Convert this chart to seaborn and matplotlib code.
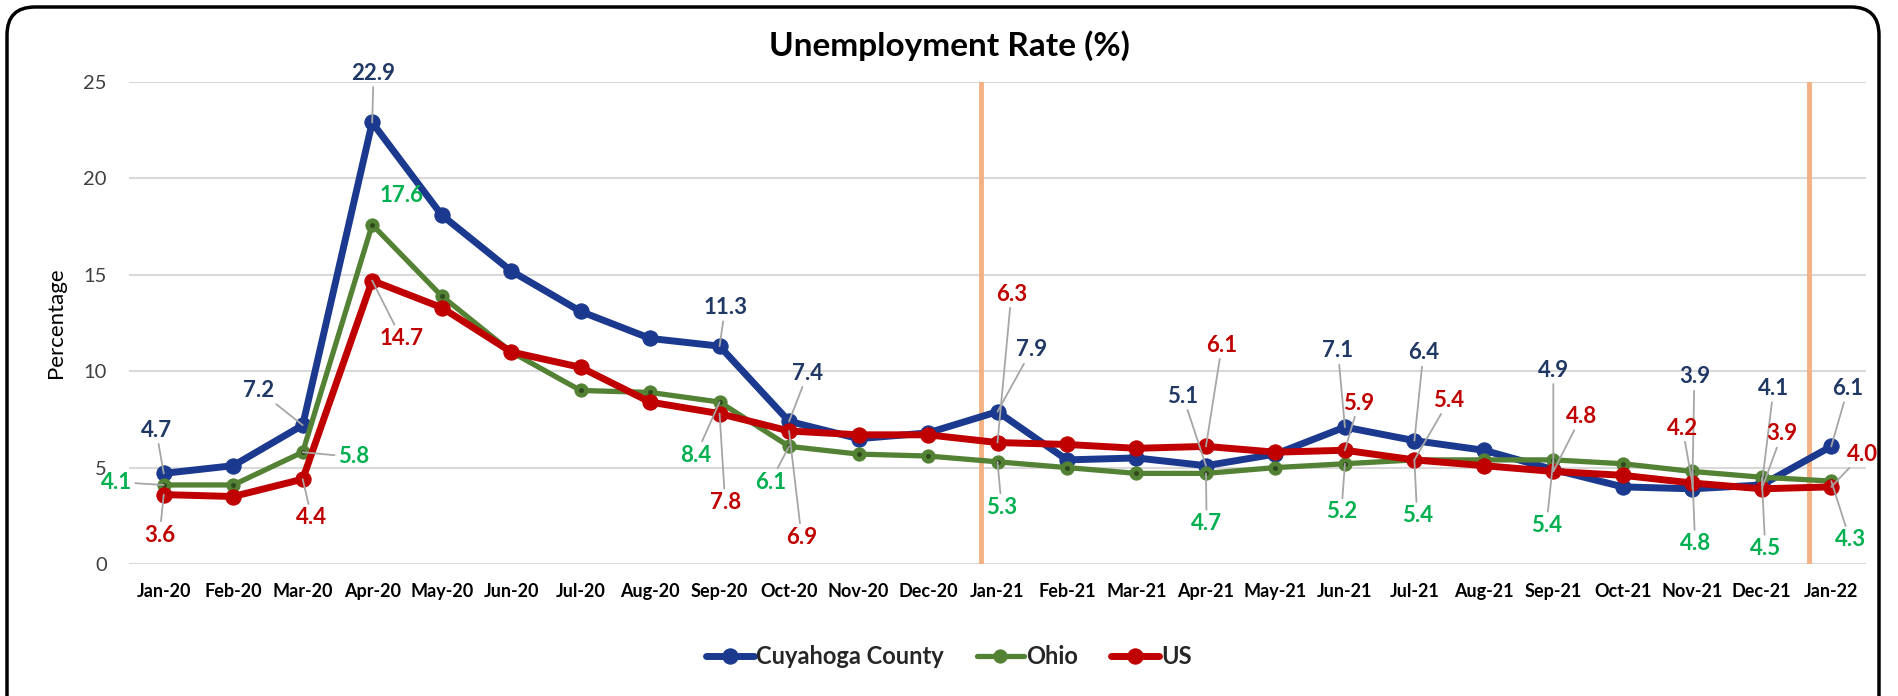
import matplotlib
matplotlib.use("Agg")
import matplotlib.pyplot as plt
from matplotlib.patches import FancyBboxPatch
from matplotlib.transforms import IdentityTransform
import numpy as np
import seaborn as sns

# data
months = ["Jan-20", "Feb-20", "Mar-20", "Apr-20", "May-20", "Jun-20", "Jul-20",
          "Aug-20", "Sep-20", "Oct-20", "Nov-20", "Dec-20", "Jan-21", "Feb-21",
          "Mar-21", "Apr-21", "May-21", "Jun-21", "Jul-21", "Aug-21", "Sep-21",
          "Oct-21", "Nov-21", "Dec-21", "Jan-22"]
cuyahoga = [4.7, 5.1, 7.2, 22.9, 18.1, 15.2, 13.1, 11.7, 11.3, 7.4, 6.5, 6.8, 7.9,
            5.4, 5.5, 5.1, 5.7, 7.1, 6.4, 5.9, 4.9, 4.0, 3.9, 4.1, 6.1]
ohio = [4.1, 4.1, 5.8, 17.6, 13.9, 11.0, 9.0, 8.9, 8.4, 6.1, 5.7, 5.6, 5.3,
        5.0, 4.7, 4.7, 5.0, 5.2, 5.4, 5.4, 5.4, 5.2, 4.8, 4.5, 4.3]
us = [3.6, 3.5, 4.4, 14.7, 13.3, 11.0, 10.2, 8.4, 7.8, 6.9, 6.7, 6.7, 6.3,
      6.2, 6.0, 6.1, 5.8, 5.9, 5.4, 5.1, 4.8, 4.6, 4.2, 3.9, 4.0]
# months that carry a value label
labelled = [0, 2, 3, 8, 9, 12, 15, 17, 18, 20, 22, 23, 24]

# label placement (x in month positions, y in data units), layout only
blue_pos = [(-0.11, 6.95), (1.37, 9.0), (3.02, 25.45), (8.08, 13.3), (9.27, 9.9),
            (12.49, 11.1), (14.67, 8.7), (16.9, 11.05), (18.13, 10.95),
            (20.0, 10.05), (22.03, 9.7), (23.17, 9.1), (24.24, 9.1)]
green_pos = [(-0.68, 4.25), (2.73, 5.55), (3.42, 19.1), (7.66, 5.65), (8.73, 4.25),
             (12.06, 2.95), (15.01, 2.1), (16.95, 2.7), (18.04, 2.5),
             (19.9, 2.0), (22.04, 1.05), (23.05, 0.8), (24.27, 1.25)]
red_pos = [(-0.06, 1.5), (2.13, 2.4), (3.42, 11.7), (8.08, 3.2), (9.18, 1.4),
           (12.2, 14.0), (15.23, 11.35), (17.2, 8.35), (18.5, 8.5),
           (20.4, 7.65), (21.86, 7.05), (23.29, 6.75), (24.45, 5.7)]

BLUE, GREEN, RED = "#1B3A8F", "#548235", "#C00000"
BLUE_TXT, GREEN_TXT, RED_TXT = "#203864", "#00B050", "#C00000"

sns.set_style("white")
plt.rcParams["font.family"] = ["Lato", "DejaVu Sans"]

fig = plt.figure(figsize=(18.98, 6.96), dpi=100)
ax = fig.add_axes([129 / 1898, 132 / 696, 1737 / 1898, 482 / 696])
x = np.arange(len(months))

# period separators
for xv in (11.76, 23.68):
    ax.axvline(xv, color="#F4B183", lw=3.5, zorder=1)

sns.lineplot(x=x, y=cuyahoga, color=BLUE, lw=5, marker="o", markersize=11,
             markeredgecolor=BLUE, label="Cuyahoga County", ax=ax, zorder=3)
sns.lineplot(x=x, y=ohio, color=GREEN, lw=3.8, marker="o", markersize=9.5,
             markeredgecolor=GREEN, label="Ohio", ax=ax, zorder=4)
ax.plot(x, ohio, ls="none", marker="o", markersize=2.5, color="#2E4A1C", zorder=4.5)
sns.lineplot(x=x, y=us, color=RED, lw=5, marker="o", markersize=11,
             markeredgecolor=RED, label="US", ax=ax, zorder=5)

# value labels with leader lines
for vals, pos, col in ((cuyahoga, blue_pos, BLUE_TXT), (ohio, green_pos, GREEN_TXT),
                       (us, red_pos, RED_TXT)):
    for i, (lx, ly) in zip(labelled, pos):
        leader = not (vals is ohio and i == 3)
        ax.annotate(f"{vals[i]:.1f}", xy=(i, vals[i]), xytext=(lx, ly),
                    textcoords="data", ha="center", va="center", color=col,
                    fontsize=16, fontweight="bold", annotation_clip=False, zorder=6,
                    arrowprops=dict(arrowstyle="-", color="#A6A6A6", lw=1.3,
                                    shrinkA=0, shrinkB=0) if leader else None)

ax.set_xlim(-0.5, 24.5)
ax.set_ylim(0, 25)
ax.set_yticks([0, 5, 10, 15, 20, 25])
ax.set_xticks(x)
ax.set_xticklabels(months, fontsize=13, fontweight="bold", color="black")
ax.tick_params(axis="y", labelsize=14.5, colors="#404040", length=0, pad=16)
ax.tick_params(axis="x", length=0, pad=14)
ax.grid(axis="y", color="#D9D9D9", lw=1.5, zorder=0)
ax.grid(axis="x", visible=False)
for s in ax.spines.values():
    s.set_visible(False)
ax.set_xlabel("")
ax.set_ylabel("Percentage", fontsize=16, color="black")
ax.yaxis.set_label_coords(-0.036, 0.5)

fig.text(0.5, 1 - 46 / 696, "Unemployment Rate (%)", ha="center", va="center",
         fontsize=24, fontweight="bold", color="black")

handles, labels = ax.get_legend_handles_labels()
ax.get_legend().remove()
fig.legend(handles, labels, loc="center", bbox_to_anchor=(0.5, 1 - 657 / 696),
           ncol=3, frameon=False, handlelength=2.0, handletextpad=0.1,
           columnspacing=1.4, prop={"size": 17, "weight": "bold"})

# rounded outer frame
frame = FancyBboxPatch((7, -40), 1872, 689 + 40, boxstyle="round,pad=0,rounding_size=28",
                       transform=IdentityTransform(), fill=False, edgecolor="black",
                       lw=2.5, clip_on=False)
fig.patches.append(frame)

fig.savefig("out.png", dpi=100, facecolor="white")
